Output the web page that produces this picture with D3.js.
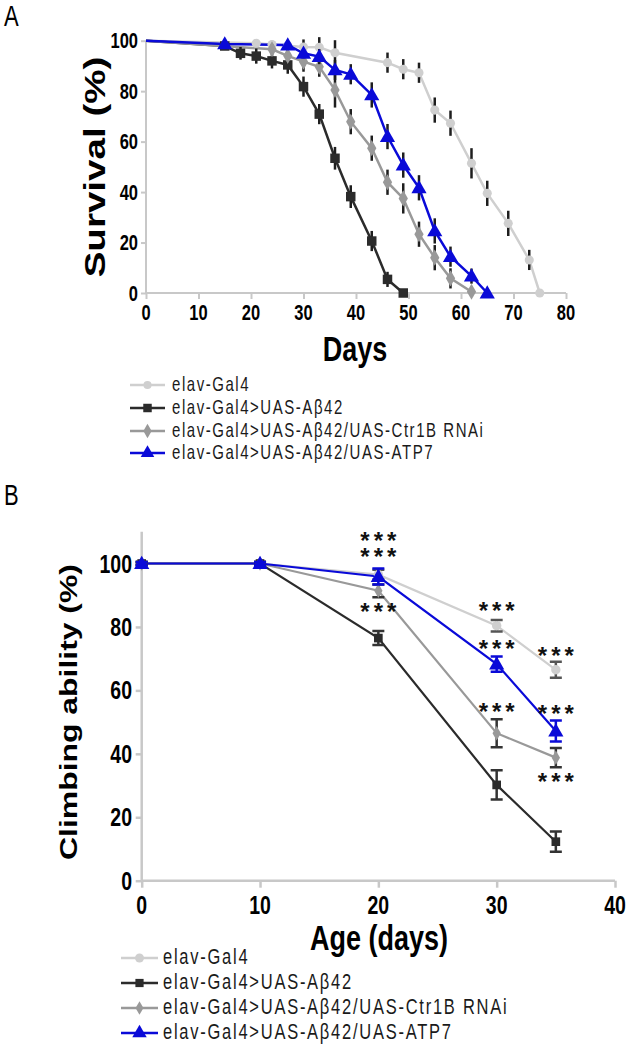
<!DOCTYPE html>
<html><head><meta charset="utf-8">
<script src="https://cdn.jsdelivr.net/npm/d3@7"></script>
<style>body{margin:0;background:#fff;position:relative}svg{display:block}text{font-family:"Liberation Sans",Arial,sans-serif}
.stars{position:absolute;font-family:"Liberation Sans",Arial,sans-serif;font-weight:bold;font-size:24px;letter-spacing:4px;color:#111;text-align:center;width:60px;line-height:16px;white-space:nowrap}</style>
</head><body>
<script>
// ---------- DATA ----------
const seriesNames = ["elav-Gal4","elav-Gal4>UAS-A\u03b242","elav-Gal4>UAS-A\u03b242/UAS-Ctr1B RNAi","elav-Gal4>UAS-A\u03b242/UAS-ATP7"];
// Panel A: survival
const survDaysLight = [0,21,24,27,30,33,36,46,49,52,55,58,62,65,69,73,75];
const survLight     = [100,99,98.5,98,97.5,97.4,95.2,91.3,88.7,87.3,72.5,67.3,51.4,39.5,27.6,13.1,0];
const survLightErr  = [0,1,1.5,2,3,4,5,4,4,4,5,5,6,5,5,4,0];
const survDaysBlack = [0,15,18,21,24,27,30,33,36,39,43,46,49];
const survBlack     = [100,97.9,95,93.9,92,90.4,81.8,70.9,53.4,38.2,20.6,5.4,0];
const survBlackErr  = [0,1.5,2.5,3,3,3.5,4,4,4.5,4.5,4,3,0];
const survDaysGray  = [0,24,27,30,33,36,39,43,46,49,52,55,58,62];
const survGray      = [100,96.6,94,91.7,89.7,80.5,67.9,57.4,43.9,37.5,23.3,14,5.8,0.5];
const survGrayErr   = [0,2,3,4,4,7,5,5,5,6,5,5,4,1];
const survDaysBlue  = [0,15,27,30,33,36,39,43,46,49,52,55,58,62,65];
const survBlue      = [100,98.7,98.3,95,93.7,88.4,86.7,78.5,62,50.7,41.7,24.6,14.4,6.7,0];
const survBlueErr   = [0,1,1.5,2,3,4,4,5,5,5,5,5,4,3,0];
const survXTicks = [0,10,20,30,40,50,60,70,80];
const survYTicks = [0,20,40,60,80,100];
// Panel B: climbing
const climbDays  = [0,10,20,30,35];
const climbLight = [100,100,96.5,80.4,66.5];
const climbLightErr = [0.5,0.5,1.5,1.8,2.5];
const climbBlack = [100,100,76.5,30.2,12.3];
const climbBlackErr = [0.5,0.5,2.2,4.6,3.2];
const climbGray  = [100,100,91.4,46.5,38.8];
const climbGrayErr = [0.5,0.5,2,4.4,3];
const climbBlue  = [100,100,95.9,68.3,47.2];
const climbBlueErr = [0.5,0.5,2.5,2.4,3.3];
const climbXTicks = [0,10,20,30,40];
const climbYTicks = [0,20,40,60,80,100];
// significance stars: day, value(s) at star-row centres
const starDays = [20,20,30,30,30,35,35,35];
const starVals = [[108.4,103.4],[86.1],[86.3],[74.4],[54.5],[72.1],[53.9],[32.5]];
const starLabel = "***";

// ---------- STYLE ----------
const colors = ["#cfcfcf","#2b2b2b","#999999","#0a0ad8"];
const shapes = [d3.symbolCircle,d3.symbolSquare,d3.symbolDiamond,d3.symbolTriangle];
const axisColor = "#c8c8c8";
const SY = 1.33; // vertical stretch of the original figure's text

const W=627,H=1050;
const svg=d3.select("body").append("svg").attr("width",W).attr("height",H);

function stretchedText(g,x,y,txt,opts){
  const t=g.append("text").attr("transform",`translate(${x},${y}) scale(1,${SY})${opts.rotate?" rotate(-90)":""}`)
    .attr("text-anchor",opts.anchor||"middle").attr("font-size",opts.size).attr("font-weight",opts.weight||"normal")
    .attr("fill",opts.fill||"#000").text(txt);
  if(opts.ls) t.attr("letter-spacing",opts.ls);
  return t;
}
function symbolPath(i,size){
  return d3.symbol().type(shapes[i]).size(size)();
}

// ================= PANEL A =================
{
  const x=d3.scaleLinear().domain([0,80]).range([146,566]);
  const y=d3.scaleLinear().domain([0,100]).range([293,40.7]);
  const g=svg.append("g");
  stretchedText(g,4,26,"A",{size:22,anchor:"start"});
  const xa=g.append("g").attr("transform",`translate(0,${y(0)})`).call(d3.axisBottom(x).tickValues(survXTicks).tickSize(6).tickFormat(""));
  const ya=g.append("g").attr("transform",`translate(${x(0)},0)`).call(d3.axisLeft(y).tickValues(survYTicks).tickSize(5).tickFormat(""));
  [xa,ya].forEach(a=>{a.selectAll("path,line").attr("stroke",axisColor).attr("stroke-width",2);});
  xa.select("path").attr("d",`M${x(0)},0H${x(80)}`);
  ya.select("path").attr("d",`M0,${y(0)}V${y(100)}`);
  survXTicks.forEach(t=>stretchedText(g,x(t),320,String(t),{size:16.5,weight:"bold"}));
  survYTicks.forEach(t=>stretchedText(g,138,y(t)+7.5,String(t),{size:16.5,weight:"bold",anchor:"end"}));
  stretchedText(g,105,167,"Survival (%)",{size:29,weight:"bold",rotate:true});
  stretchedText(g,355,361,"Days",{size:27,weight:"bold"});

  const data=[[survDaysLight,survLight,survLightErr],[survDaysBlack,survBlack,survBlackErr],[survDaysGray,survGray,survGrayErr],[survDaysBlue,survBlue,survBlueErr]];
  const sizes=[65,90,75,100];
  const line=d3.line().x(d=>x(d[0])).y(d=>y(d[1]));
  data.forEach((s,i)=>{
    const pts=s[0].map((d,k)=>[d,s[1][k],s[2][k]]);
    g.append("path").attr("d",line(pts)).attr("fill","none").attr("stroke",colors[i]).attr("stroke-width",2.5);
  });
  data.forEach((s,i)=>{
    const pts=s[0].map((d,k)=>[d,s[1][k],s[2][k]]).filter(p=>p[0]>0);
    g.selectAll(null).data(pts.filter(p=>p[2]>0)).enter().append("line")
      .attr("x1",p=>x(p[0])).attr("x2",p=>x(p[0])).attr("y1",p=>y(p[1]+p[2])).attr("y2",p=>y(p[1]-p[2]))
      .attr("stroke","#1e1e1e").attr("stroke-width",2.5);
    g.selectAll(null).data(pts).enter().append("path")
      .attr("transform",p=>`translate(${x(p[0])},${y(p[1])+(i==3?1:0)})`)
      .attr("d",symbolPath(i,sizes[i])).attr("fill",colors[i]);
  });
  const ly=[385,408,431,453];
  seriesNames.forEach((n,i)=>{
    g.append("line").attr("x1",130).attr("x2",165).attr("y1",ly[i]).attr("y2",ly[i]).attr("stroke",colors[i]).attr("stroke-width",2.5);
    g.append("path").attr("transform",`translate(147.5,${ly[i]})`).attr("d",symbolPath(i,sizes[i]*0.8)).attr("fill",colors[i]);
    stretchedText(g,172,ly[i]+5.5,n,{size:15,anchor:"start",ls:1.55,fill:"#1a1a1a"});
  });
}

// ================= PANEL B =================
{
  const x=d3.scaleLinear().domain([0,40]).range([141.7,615]);
  const y=d3.scaleLinear().domain([0,110]).range([880.7,531.8]);
  const g=svg.append("g");
  stretchedText(g,4,505,"B",{size:22,anchor:"start"});
  const xa=g.append("g").attr("transform",`translate(0,${y(0)})`).call(d3.axisBottom(x).tickValues(climbXTicks).tickSize(7).tickFormat(""));
  const ya=g.append("g").attr("transform",`translate(${x(0)},0)`).call(d3.axisLeft(y).tickValues(climbYTicks).tickSize(6).tickFormat(""));
  [xa,ya].forEach(a=>{a.selectAll("path,line").attr("stroke",axisColor).attr("stroke-width",2.5);});
  xa.select("path").attr("d",`M${x(0)},0H${x(40)}`);
  ya.select("path").attr("d",`M0,${y(0)}V${y(110)}`);
  climbXTicks.forEach(t=>stretchedText(g,x(t),914,String(t),{size:19.5,weight:"bold"}));
  climbYTicks.forEach(t=>stretchedText(g,132,y(t)+9,String(t),{size:19.5,weight:"bold",anchor:"end"}));
  stretchedText(g,77,712,"Climbing ability (%)",{size:24,weight:"bold",rotate:true});
  stretchedText(g,379,950,"Age (days)",{size:27,weight:"bold"});

  const vals=[[climbLight,climbLightErr],[climbBlack,climbBlackErr],[climbGray,climbGrayErr],[climbBlue,climbBlueErr]];
  const sizes=[70,75,60,100];
  const errColors=["#555","#333","#333",colors[3]];
  const line=d3.line().x(d=>x(d[0])).y(d=>y(d[1]));
  vals.forEach((s,i)=>{
    const pts=climbDays.map((d,k)=>[d,s[0][k],s[1][k]]);
    g.append("path").attr("d",line(pts)).attr("fill","none").attr("stroke",colors[i]).attr("stroke-width",2.2);
  });
  vals.forEach((s,i)=>{
    const pts=climbDays.map((d,k)=>[d,s[0][k],s[1][k]]);
    const eg=g.append("g").attr("stroke",errColors[i]).attr("stroke-width",2.5).attr("fill","none");
    eg.selectAll(null).data(pts).enter().append("path")
      .attr("d",p=>{const cx=x(p[0]),t=y(p[1]+p[2]),b=y(p[1]-p[2]);return `M${cx-6},${t}H${cx+6}M${cx},${t}V${b}M${cx-6},${b}H${cx+6}`;});
    g.selectAll(null).data(pts).enter().append("path")
      .attr("transform",p=>`translate(${x(p[0])},${y(p[1])+(i==3?1:0)})`)
      .attr("d",symbolPath(i,sizes[i])).attr("fill",colors[i]);
  });
  // stars: HTML labels so stacked rows form one text block
  starDays.forEach((d,k)=>{
    const vs=starVals[k];
    const top=y(vs[0])-4;
    d3.select("body").append("div").attr("class","stars")
      .style("left",(x(d)-30+2)+"px").style("top",top+"px")
      .html(vs.map(()=>starLabel).join("<br>"));
  });
  const ly=[958,983,1008,1033];
  seriesNames.forEach((n,i)=>{
    g.append("line").attr("x1",121).attr("x2",158).attr("y1",ly[i]).attr("y2",ly[i]).attr("stroke",colors[i]).attr("stroke-width",2.5);
    g.append("path").attr("transform",`translate(139.5,${ly[i]})`).attr("d",symbolPath(i,sizes[i]*0.9)).attr("fill",colors[i]);
    stretchedText(g,163,ly[i]+6,n,{size:16.5,anchor:"start",ls:1.75,fill:"#1a1a1a"});
  });
}
</script>
</body></html>
